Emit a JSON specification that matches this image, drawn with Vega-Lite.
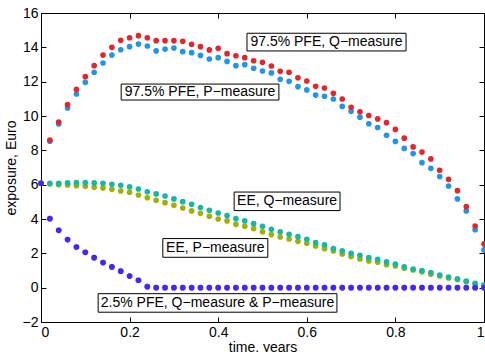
{
  "$schema": "https://vega.github.io/schema/vega-lite/v6.json",
  "width": 443,
  "height": 309,
  "autosize": {"type": "none"},
  "padding": {"left": 41, "top": 13, "right": 1, "bottom": 30},
  "background": "white",
  "config": {
    "view": {"stroke": "black", "strokeWidth": 1},
    "font": "Liberation Sans",
    "axis": {
      "grid": false,
      "domain": false,
      "tickColor": "black",
      "tickSize": -5,
      "tickWidth": 1,
      "labelPadding": 8,
      "labelFontSize": 14,
      "labelColor": "black",
      "labelFont": "Liberation Sans",
      "titleFontSize": 14,
      "titleFontWeight": "normal",
      "titleColor": "black",
      "titleFont": "Liberation Sans"
    }
  },
  "datasets": {
    "series": [
      {"t": 0.00, "a": 6.08, "b": 6.08, "c": 6.08, "d": 6.08, "e": 6.08, "f": 6.08},
      {"t": 0.02, "a": 8.60, "b": 8.53, "c": 6.08, "d": 6.04, "e": 4.02, "f": 4.02},
      {"t": 0.04, "a": 9.65, "b": 9.54, "c": 6.08, "d": 6.00, "e": 3.34, "f": 3.34},
      {"t": 0.06, "a": 10.66, "b": 10.47, "c": 6.10, "d": 5.98, "e": 2.80, "f": 2.80},
      {"t": 0.08, "a": 11.55, "b": 11.28, "c": 6.12, "d": 5.94, "e": 2.37, "f": 2.37},
      {"t": 0.10, "a": 12.29, "b": 11.96, "c": 6.12, "d": 5.91, "e": 2.06, "f": 2.06},
      {"t": 0.12, "a": 12.93, "b": 12.55, "c": 6.10, "d": 5.85, "e": 1.75, "f": 1.75},
      {"t": 0.14, "a": 13.55, "b": 13.09, "c": 6.08, "d": 5.81, "e": 1.46, "f": 1.46},
      {"t": 0.16, "a": 14.00, "b": 13.55, "c": 6.02, "d": 5.73, "e": 1.21, "f": 1.21},
      {"t": 0.18, "a": 14.41, "b": 13.86, "c": 5.96, "d": 5.63, "e": 0.96, "f": 0.96},
      {"t": 0.20, "a": 14.56, "b": 14.04, "c": 5.87, "d": 5.56, "e": 0.68, "f": 0.68},
      {"t": 0.22, "a": 14.68, "b": 14.19, "c": 5.75, "d": 5.40, "e": 0.43, "f": 0.43},
      {"t": 0.24, "a": 14.56, "b": 14.08, "c": 5.59, "d": 5.24, "e": 0.06, "f": 0.06},
      {"t": 0.26, "a": 14.39, "b": 13.79, "c": 5.46, "d": 5.09, "e": 0, "f": 0},
      {"t": 0.28, "a": 14.39, "b": 13.90, "c": 5.34, "d": 4.95, "e": 0, "f": 0},
      {"t": 0.30, "a": 14.39, "b": 13.96, "c": 5.17, "d": 4.80, "e": 0, "f": 0},
      {"t": 0.32, "a": 14.35, "b": 13.75, "c": 5.01, "d": 4.64, "e": 0, "f": 0},
      {"t": 0.34, "a": 14.18, "b": 13.69, "c": 4.86, "d": 4.47, "e": 0, "f": 0},
      {"t": 0.36, "a": 14.04, "b": 13.53, "c": 4.67, "d": 4.33, "e": 0, "f": 0},
      {"t": 0.38, "a": 13.85, "b": 13.32, "c": 4.51, "d": 4.16, "e": 0, "f": 0},
      {"t": 0.40, "a": 13.94, "b": 13.40, "c": 4.35, "d": 4.00, "e": 0, "f": 0},
      {"t": 0.42, "a": 13.63, "b": 13.18, "c": 4.20, "d": 3.89, "e": 0, "f": 0},
      {"t": 0.44, "a": 13.51, "b": 12.93, "c": 4.02, "d": 3.69, "e": 0, "f": 0},
      {"t": 0.46, "a": 13.40, "b": 12.99, "c": 3.89, "d": 3.58, "e": 0, "f": 0},
      {"t": 0.48, "a": 13.22, "b": 12.78, "c": 3.73, "d": 3.44, "e": 0, "f": 0},
      {"t": 0.50, "a": 13.13, "b": 12.62, "c": 3.58, "d": 3.26, "e": 0, "f": 0},
      {"t": 0.52, "a": 12.91, "b": 12.51, "c": 3.40, "d": 3.09, "e": 0, "f": 0},
      {"t": 0.54, "a": 12.60, "b": 12.14, "c": 3.25, "d": 2.95, "e": 0, "f": 0},
      {"t": 0.56, "a": 12.55, "b": 12.02, "c": 3.11, "d": 2.84, "e": 0, "f": 0},
      {"t": 0.58, "a": 12.23, "b": 11.71, "c": 2.97, "d": 2.70, "e": 0, "f": 0},
      {"t": 0.60, "a": 12.04, "b": 11.52, "c": 2.82, "d": 2.59, "e": 0, "f": 0},
      {"t": 0.62, "a": 11.73, "b": 11.22, "c": 2.62, "d": 2.43, "e": 0, "f": 0},
      {"t": 0.64, "a": 11.63, "b": 11.15, "c": 2.49, "d": 2.27, "e": 0, "f": 0},
      {"t": 0.66, "a": 11.32, "b": 10.99, "c": 2.28, "d": 2.14, "e": 0, "f": 0},
      {"t": 0.68, "a": 10.99, "b": 10.56, "c": 2.14, "d": 1.96, "e": 0, "f": 0},
      {"t": 0.70, "a": 10.51, "b": 10.27, "c": 2.00, "d": 1.81, "e": 0, "f": 0},
      {"t": 0.72, "a": 10.25, "b": 9.93, "c": 1.89, "d": 1.67, "e": 0, "f": 0},
      {"t": 0.74, "a": 10.03, "b": 9.55, "c": 1.75, "d": 1.56, "e": 0, "f": 0},
      {"t": 0.76, "a": 9.83, "b": 9.33, "c": 1.65, "d": 1.48, "e": 0, "f": 0},
      {"t": 0.78, "a": 9.61, "b": 8.88, "c": 1.50, "d": 1.34, "e": 0, "f": 0},
      {"t": 0.80, "a": 9.22, "b": 8.52, "c": 1.38, "d": 1.26, "e": 0, "f": 0},
      {"t": 0.82, "a": 8.71, "b": 8.11, "c": 1.22, "d": 1.13, "e": 0, "f": 0},
      {"t": 0.84, "a": 8.20, "b": 7.81, "c": 1.09, "d": 1.03, "e": 0, "f": 0},
      {"t": 0.86, "a": 7.90, "b": 7.28, "c": 0.99, "d": 0.92, "e": 0, "f": 0},
      {"t": 0.88, "a": 7.50, "b": 6.95, "c": 0.88, "d": 0.78, "e": 0, "f": 0},
      {"t": 0.90, "a": 6.84, "b": 6.47, "c": 0.74, "d": 0.68, "e": 0, "f": 0},
      {"t": 0.92, "a": 6.31, "b": 5.92, "c": 0.62, "d": 0.57, "e": 0, "f": 0},
      {"t": 0.94, "a": 5.65, "b": 5.17, "c": 0.51, "d": 0.47, "e": 0, "f": 0},
      {"t": 0.96, "a": 4.72, "b": 4.47, "c": 0.39, "d": 0.35, "e": 0, "f": 0},
      {"t": 0.98, "a": 3.59, "b": 3.38, "c": 0.26, "d": 0.22, "e": 0, "f": 0},
      {"t": 1.00, "a": 2.55, "b": 2.20, "c": 0.16, "d": 0.12, "e": 0, "f": 0}
    ],
    "boxes": [
      {"label": "97.5% PFE, Q−measure", "x1": 0.465, "x2": 0.824, "y1": 14.82, "y2": 13.79, "xc": 0.6445, "yc": 14.30},
      {"label": "97.5% PFE, P−measure", "x1": 0.181, "x2": 0.537, "y1": 11.86, "y2": 10.93, "xc": 0.359, "yc": 11.40},
      {"label": "EE, Q−measure", "x1": 0.436, "x2": 0.675, "y1": 5.57, "y2": 4.49, "xc": 0.5555, "yc": 5.03},
      {"label": "EE, P−measure", "x1": 0.275, "x2": 0.512, "y1": 2.86, "y2": 1.77, "xc": 0.3935, "yc": 2.315},
      {"label": "2.5% PFE, Q−measure & P−measure", "x1": 0.129, "x2": 0.668, "y1": -0.35, "y2": -1.43, "xc": 0.3985, "yc": -0.89}
    ]
  },
  "resolve": {"axis": {"x": "independent", "y": "independent"}},
  "layer": [
    {
      "data": {"name": "series"},
      "transform": [{"fold": ["b", "a", "d", "c", "e", "f"], "as": ["s", "v"]}],
      "mark": {"type": "point", "filled": true, "opacity": 1, "clip": false},
      "encoding": {
        "x": {
          "field": "t", "type": "quantitative",
          "scale": {"domain": [0, 1], "nice": false, "zero": false},
          "axis": {"values": [0, 0.2, 0.4, 0.6, 0.8, 1], "format": "~g", "title": "time, years", "titlePadding": 1}
        },
        "y": {
          "field": "v", "type": "quantitative",
          "scale": {"domain": [-2, 16], "nice": false, "zero": false},
          "axis": {"values": [-2, 0, 2, 4, 6, 8, 10, 12, 14, 16], "title": "exposure, Euro", "titlePadding": 4}
        },
        "color": {
          "field": "s", "type": "nominal", "legend": null,
          "scale": {"domain": ["a", "b", "c", "d", "e", "f"], "range": ["#e5252b", "#1f96e8", "#14b8a4", "#a2b000", "#f03cf0", "#3a2cf8"]}
        },
        "size": {
          "field": "s", "type": "nominal", "legend": null,
          "scale": {"domain": ["a", "b", "c", "d", "e", "f"], "range": [32, 32, 32, 32, 44, 7]}
        }
      }
    },
    {
      "data": {"name": "boxes"},
      "mark": {"type": "rect", "fill": "white", "stroke": "black", "strokeWidth": 1},
      "encoding": {
        "x": {"field": "x1", "type": "quantitative", "axis": {"orient": "top", "labels": false, "title": null, "values": [0, 0.2, 0.4, 0.6, 0.8, 1]}},
        "x2": {"field": "x2"},
        "y": {"field": "y1", "type": "quantitative", "axis": {"orient": "right", "labels": false, "title": null, "values": [-2, 0, 2, 4, 6, 8, 10, 12, 14, 16]}},
        "y2": {"field": "y2"}
      }
    },
    {
      "data": {"name": "boxes"},
      "mark": {"type": "text", "fontSize": 14, "font": "Liberation Sans", "color": "black", "align": "center", "baseline": "middle"},
      "encoding": {
        "x": {"field": "xc", "type": "quantitative", "axis": null},
        "y": {"field": "yc", "type": "quantitative", "axis": null},
        "text": {"field": "label", "type": "nominal"}
      }
    }
  ]
}
